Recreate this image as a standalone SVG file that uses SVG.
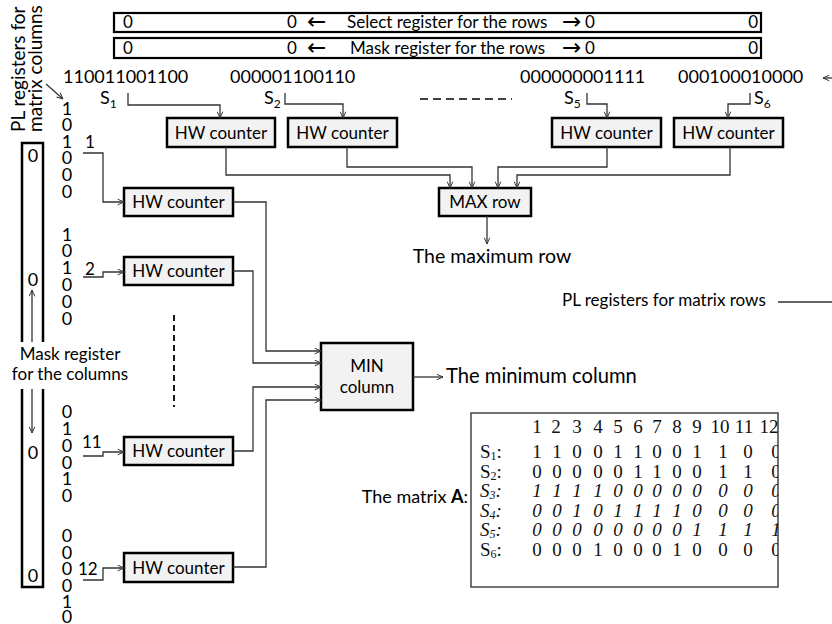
<svg xmlns="http://www.w3.org/2000/svg" width="832" height="624" viewBox="0 0 832 624">
<style>
.t{font-family:Lato,"Liberation Sans",sans-serif;fill:#000}
.s17{font-size:17px}
.s18{font-size:18px}
.s19{font-size:19.5px}
.s20{font-size:20.2px}
.m{text-anchor:middle}
.e{text-anchor:end}
.reg{fill:#fff;stroke:#000;stroke-width:2.2}
.box{fill:#f2f2f2;stroke:#000;stroke-width:2.5}
.c{fill:none;stroke:#333;stroke-width:1.3}
.a{marker-end:url(#ah)}
.sym{font-family:"DejaVu Sans","Liberation Sans",sans-serif;font-size:23px}
.tb{font-family:"Liberation Serif","Times New Roman",serif;font-size:19px;fill:#111}
.it{font-style:italic}
</style>
<defs>
<marker id="ah" viewBox="0 0 10 10" refX="10" refY="5" markerWidth="7" markerHeight="7" orient="auto" markerUnits="userSpaceOnUse">
<path d="M1,1 L10,5 L1,9" fill="none" stroke="#333" stroke-width="1.4"/>
</marker>
<clipPath id="tc"><rect x="471" y="413" width="307" height="174"/></clipPath>
</defs>

<g id="select-register">
<rect class="reg" x="114" y="13" width="647" height="19"/>
<text class="t s17" x="123" y="28">0</text>
<text class="t s17" x="287" y="28">0</text>
<text class="sym" x="307" y="29">←</text>
<text class="t s17" x="347" y="28">Select register for the rows</text>
<text class="sym" x="562" y="29">→</text>
<text class="t s17" x="585" y="28">0</text>
<text class="t s17 e" x="758" y="28">0</text>
</g>

<g id="mask-register-rows">
<rect class="reg" x="114" y="38" width="647" height="20"/>
<text class="t s17" x="123" y="54">0</text>
<text class="t s17" x="287" y="54">0</text>
<text class="sym" x="307" y="55">←</text>
<text class="t s17" x="350" y="54">Mask register for the rows</text>
<text class="sym" x="562" y="55">→</text>
<text class="t s17" x="585" y="54">0</text>
<text class="t s17 e" x="758" y="54">0</text>
</g>

<g id="row-strings">
<text class="t s18" x="63" y="83">110011001100</text>
<text class="t s18" x="230" y="83">000001100110</text>
<text class="t s18" x="520" y="83">000000001111</text>
<text class="t s18" x="678" y="83">000100010000</text>
<text class="t s18" x="100" y="104">S<tspan font-size="12" dy="4">1</tspan></text>
<text class="t s18" x="264" y="104">S<tspan font-size="12" dy="4">2</tspan></text>
<text class="t s18" x="564" y="104">S<tspan font-size="12" dy="4">5</tspan></text>
<text class="t s18" x="754" y="104">S<tspan font-size="12" dy="4">6</tspan></text>
<path d="M420,99 H512" fill="none" stroke="#000" stroke-width="1.5" stroke-dasharray="8,5"/>
</g>

<g id="hw-row-1">
<rect class="box" x="167" y="118" width="108" height="29"/>
<text class="t s17 m" x="221" y="138.5">HW counter</text>
</g>
<g id="hw-row-2">
<rect class="box" x="288" y="118" width="109" height="29"/>
<text class="t s17 m" x="342.5" y="138.5">HW counter</text>
</g>
<g id="hw-row-5">
<rect class="box" x="552" y="118" width="109" height="29"/>
<text class="t s17 m" x="606.5" y="138.5">HW counter</text>
</g>
<g id="hw-row-6">
<rect class="box" x="674" y="118" width="109" height="29"/>
<text class="t s17 m" x="728.5" y="138.5">HW counter</text>
</g>

<g id="max-row">
<rect class="box" x="439" y="188" width="92" height="28"/>
<text class="t s17 m" x="485" y="208">MAX row</text>
<text class="t s19 m" x="492" y="263">The maximum row</text>
</g>

<g id="pl-columns-label">
<text class="t" font-size="19" transform="translate(25,132) rotate(-90)">PL registers for</text>
<text class="t" font-size="19" transform="translate(42,132) rotate(-90)">matrix columns</text>
</g>

<g id="mask-register-columns">
<path d="M22,342 V143 H43 V342 M22,389 V587 H43 V389" fill="none" stroke="#000" stroke-width="2.5"/>
<text class="t s18 m" x="33" y="161.5">0</text>
<text class="t s18 m" x="33" y="285.5">0</text>
<text class="t s18 m" x="33" y="458.5">0</text>
<text class="t s18 m" x="33" y="581.5">0</text>
<text class="t s17 m" x="70" y="360">Mask register</text>
<text class="t s17 m" x="70" y="380">for the columns</text>
</g>

<g id="column-bits">
<text class="t s18 m" x="67 67 67 67 67 67" y="114.5 131.1 147.7 164.3 180.9 197.5">101000</text>
<text class="t s18 m" x="67 67 67 67 67 67" y="240.5 257.3 274.1 290.9 307.7 324.5">101000</text>
<text class="t s18 m" x="67 67 67 67 67 67" y="417.5 434.5 451.5 468.5 484.5 501.5">010010</text>
<text class="t s18 m" x="67 67 67 67 67 67" y="541.5 558.5 574.5 591.5 608 623">000010</text>
<text class="t s17" x="85" y="148">1</text>
<text class="t s17" x="85" y="275">2</text>
<text class="t s17" x="82" y="448">11</text>
<text class="t s17" x="78" y="575">12</text>
<path d="M174,315 V407" fill="none" stroke="#000" stroke-width="1.8" stroke-dasharray="6,4"/>
</g>

<g id="hw-col-1">
<rect class="box" x="124" y="188" width="109" height="28"/>
<text class="t s17 m" x="178.5" y="208">HW counter</text>
</g>
<g id="hw-col-2">
<rect class="box" x="124" y="257" width="109" height="28"/>
<text class="t s17 m" x="178.5" y="277">HW counter</text>
</g>
<g id="hw-col-11">
<rect class="box" x="124" y="437" width="109" height="28"/>
<text class="t s17 m" x="178.5" y="457">HW counter</text>
</g>
<g id="hw-col-12">
<rect class="box" x="124" y="553" width="109" height="29"/>
<text class="t s17 m" x="178.5" y="573.5">HW counter</text>
</g>

<g id="min-column">
<rect class="box" x="321" y="343" width="92" height="67"/>
<text class="t s17 m" x="367" y="372">MIN</text>
<text class="t s17 m" x="367" y="393">column</text>
<text class="t s20" x="446" y="383">The minimum column</text>
</g>

<g id="pl-rows-label">
<text class="t s17" x="562" y="306">PL registers for matrix rows</text>
</g>

<g id="matrix-A">
<text class="t s18 e" x="468" y="503">The matrix <tspan font-weight="bold">A</tspan>:</text>
<rect x="471" y="413" width="307" height="174" fill="#fff" stroke="#444" stroke-width="1.5"/>
<g clip-path="url(#tc)">
<text class="tb m"><tspan x="537 556 577 598 618 638 657 677 697" y="433">123456789</tspan><tspan x="720" y="433">10</tspan><tspan x="744" y="433">11</tspan><tspan x="769" y="433">12</tspan></text>
<text class="tb" x="480" y="458">S<tspan font-size="12" dy="2">1</tspan><tspan dy="-2">:</tspan></text>
<text class="tb m" x="537 557 577 598 618 638 657 677 697 723 748 776" y="458">110011001100</text>
<text class="tb" x="480" y="477.5">S<tspan font-size="12" dy="2">2</tspan><tspan dy="-2">:</tspan></text>
<text class="tb m" x="537 557 577 598 618 638 657 677 697 723 748 776" y="477.5">000001100110</text>
<text class="tb it" x="480" y="497">S<tspan font-size="12" dy="2">3</tspan><tspan dy="-2">:</tspan></text>
<text class="tb m it" x="537 557 577 598 618 638 657 677 697 723 748 776" y="497">111100000000</text>
<text class="tb it" x="480" y="516.5">S<tspan font-size="12" dy="2">4</tspan><tspan dy="-2">:</tspan></text>
<text class="tb m it" x="537 557 577 598 618 638 657 677 697 723 748 776" y="516.5">001011110000</text>
<text class="tb it" x="480" y="536">S<tspan font-size="12" dy="2">5</tspan><tspan dy="-2">:</tspan></text>
<text class="tb m it" x="537 557 577 598 618 638 657 677 697 723 748 776" y="536">000000001111</text>
<text class="tb" x="480" y="555.5">S<tspan font-size="12" dy="2">6</tspan><tspan dy="-2">:</tspan></text>
<text class="tb m" x="537 557 577 598 618 638 657 677 697 723 748 776" y="555.5">000100010000</text>
</g>
</g>

<g id="connectors">
<path class="c a" d="M128,93 V105 H220 V118"/>
<path class="c a" d="M285,93 V104 H343 V118"/>
<path class="c a" d="M587,93 V104 H607 V118"/>
<path class="c a" d="M750,93 V104 H728 V118"/>
<path class="c a" d="M226,147 V175 H450 V188"/>
<path class="c a" d="M347,147 V167 H472 V188"/>
<path class="c a" d="M607,147 V167 H498 V188"/>
<path class="c a" d="M730,147 V175 H517 V188"/>
<path class="c a" d="M487,216 V244"/>
<path class="c a" d="M83,153 H103 V202 H124"/>
<path class="c a" d="M83,277 H103 V272 H124"/>
<path class="c a" d="M83,456 H103 V452 H124"/>
<path class="c a" d="M83,580 H103 V568 H124"/>
<path class="c a" d="M233,202 H266 V351 H321"/>
<path class="c a" d="M233,271 H253 V363 H321"/>
<path class="c a" d="M233,451 H253 V387 H321"/>
<path class="c a" d="M233,567 H266 V400 H321"/>
<path class="c a" d="M413,377 H443"/>
<path class="c a" d="M46,84 L63,99"/>
<path class="c a" d="M32,342 V290"/>
<path class="c a" d="M32,389 V433"/>
<path class="c a" d="M834,78 H823"/>
<path class="c" d="M778,302 H832"/>
</g>
</svg>
